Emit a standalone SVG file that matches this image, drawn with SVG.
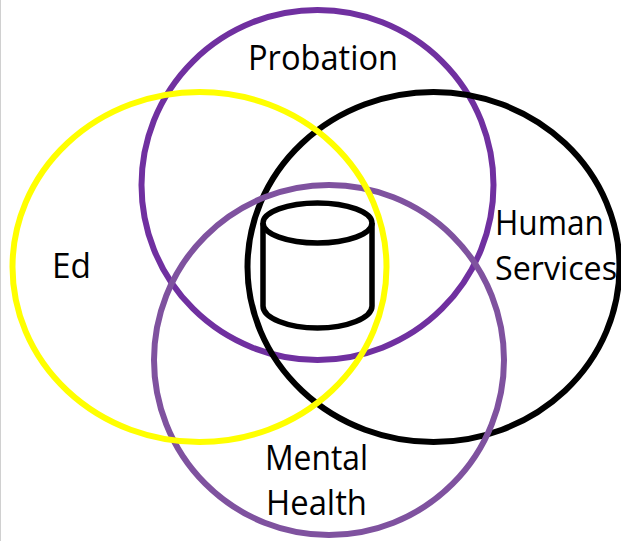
<svg xmlns="http://www.w3.org/2000/svg" width="621" height="541" viewBox="0 0 621 541">
<style>
.c{fill:none;stroke-width:6}
.t{font-family:"Open Sans","Noto Sans",sans-serif;font-size:34.500px;font-weight:400;fill:#000;text-anchor:start}
.d{fill:none;stroke:#000;stroke-width:5.500;stroke-linejoin:round}
</style>
<rect width="621" height="541" fill="#fff"/>
<rect x="0" y="0" width="1" height="541" fill="#d0d0d0"/>
<g id="probation"><ellipse class="c" cx="317.500" cy="185" rx="176" ry="175" stroke="#7030a0"/><text class="t" x="248" y="70" textLength="150" lengthAdjust="spacingAndGlyphs">Probation</text></g>
<g id="human-services"><ellipse class="c" cx="433.500" cy="267" rx="186" ry="175" stroke="#000"/><text class="t" x="495" y="235" textLength="109" lengthAdjust="spacingAndGlyphs">Human</text><text class="t" x="495" y="280" style="font-size:33px" textLength="122" lengthAdjust="spacingAndGlyphs">Services</text></g>
<g id="mental-health"><ellipse class="c" cx="329" cy="360" rx="175" ry="175" stroke="#7f529f"/><text class="t" x="265" y="470" textLength="103" lengthAdjust="spacingAndGlyphs">Mental</text><text class="t" x="266" y="515" textLength="101" lengthAdjust="spacingAndGlyphs">Health</text></g>
<g id="ed"><ellipse class="c" cx="199.500" cy="267" rx="187" ry="175" stroke="#ffff00"/><text class="t" x="52" y="278" textLength="39" lengthAdjust="spacingAndGlyphs">Ed</text></g>
<g id="database"><path class="d" d="M263 223V306C263 318 288 328 317.500 328S372 318 372 306V223"/><ellipse class="d" cx="317.500" cy="223" rx="54.500" ry="20"/></g>
<g id="connectors"></g>
</svg>
